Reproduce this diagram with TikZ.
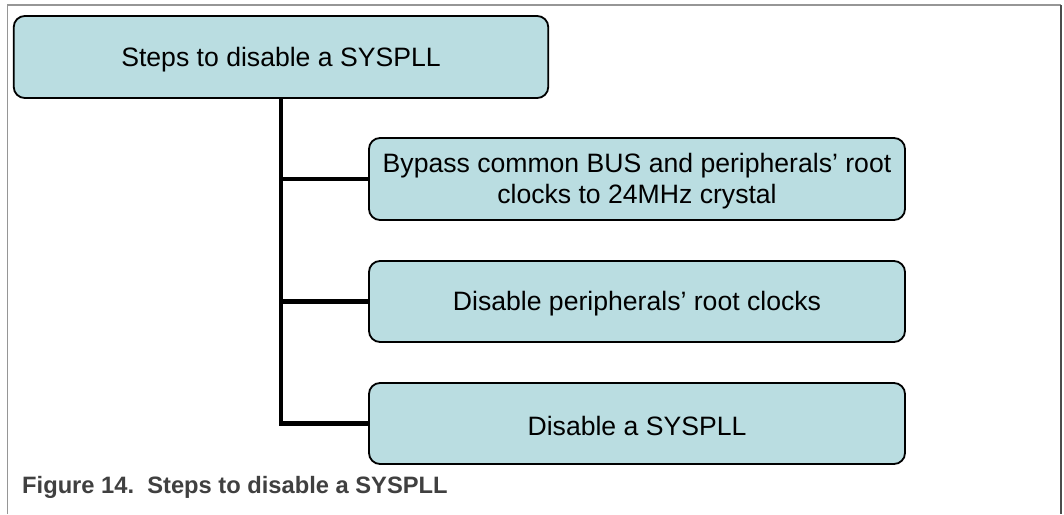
\documentclass[tikz,border=0pt]{standalone}
\usepackage{fontspec}
\setmainfont{Liberation Sans}
\definecolor{boxfill}{RGB}{186,221,225}
\definecolor{framegray}{RGB}{150,150,150}
\definecolor{capgray}{RGB}{64,64,64}
\tikzset{
  stepbox/.style={draw=black, line width=1.8pt, fill=boxfill, rounded corners=11pt,
    inner sep=0pt, anchor=center},
  steptext/.style={inner sep=0pt, align=center, font=\fontsize{26.6}{31}\selectfont, anchor=center},
  link/.style={line width=4.5pt, draw=black}
}
\begin{document}
\begin{tikzpicture}[x=1pt,y=-1pt]
\useasboundingbox (0,0) rectangle (1064,514);
\fill[white] (0,0) rectangle (1064,514);
% frame
\draw[framegray, line width=1.5pt] (7.5,514) -- (7.5,5) -- (1061,5);
\draw[black!70, line width=1.5pt] (1061,5) -- (1061,514);
% boxes
\node[stepbox, minimum width=534.5pt, minimum height=82pt] (top) at (281,57) {};
\node[stepbox, minimum width=536pt, minimum height=82pt] (s1) at (637,179) {};
\node[stepbox, minimum width=536pt, minimum height=81pt] (s2) at (637,301.5) {};
\node[stepbox, minimum width=536pt, minimum height=81pt] (s3) at (637,423.5) {};
% texts
\node[steptext] (topt) at ([yshift=-2.6pt]top.center) {Steps to disable a SYSPLL};
\node[steptext] (s1t) at ([yshift=-2.6pt]s1.center) {Bypass common BUS and peripherals’ root\\clocks to 24MHz crystal};
\node[steptext] (s2t) at ([yshift=-2.6pt]s2.center) {Disable peripherals’ root clocks};
\node[steptext] (s3t) at ([yshift=-2.6pt]s3.center) {Disable a SYSPLL};
% connectors
\coordinate (c3) at (top.south |- s3.west);
\draw[link] (top.south) -- (c3) -- (s3.west);
\draw[link] (top.south |- s1.west) -- (s1.west);
\draw[link] (top.south |- s2.west) -- (s2.west);
% caption
\node[anchor=base west, inner sep=0pt, text=capgray, font=\fontsize{23.7}{27}\selectfont\bfseries] (cap) at (22,493) {Figure 14.\ \ Steps to disable a SYSPLL};
\end{tikzpicture}
\end{document}
